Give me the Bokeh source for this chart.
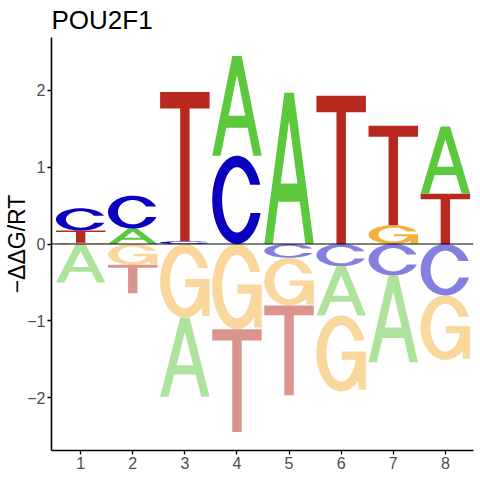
import numpy as np
from bokeh.plotting import figure
from bokeh.models import Span, FixedTicker, Range1d, ColumnDataSource
from bokeh.embed import file_html
from bokeh.resources import INLINE

# ---------------- data ----------------
positions = [1, 2, 3, 4, 5, 6, 7, 8]
A_vals = [-0.50, 0.20, -1.03, 1.30, 1.97, -0.64, -1.13, 0.875]
C_vals = [0.29, 0.43, 0.035, 1.15, -0.18, -0.29, -0.41, -0.67]
G_vals = [0.015, -0.27, -0.96, -1.11, -0.62, -0.99, 0.245, -0.84]
T_vals = [0.16, -0.37, 1.945, -1.34, -1.17, 1.93, 1.295, 0.655]
x_ticks = [1, 2, 3, 4, 5, 6, 7, 8]
y_ticks = [-2, -1, 0, 1, 2]
title_text = "POU2F1"
y_label_text = "\u2212\u0394\u0394G/RT"

letter_colors = {"A": "#5CC83B", "C": "#0C00C0", "G": "#F5B03C", "T": "#B8281E"}
pos_alpha = 1.0
neg_alpha = 0.5
letter_width = 0.95

# ---------------- letter outlines (unit box) ----------------
def arc(cx, cy, rx, ry, a0, a1, n=60):
    t = np.linspace(a0, a1, n)
    return list(cx + rx * np.cos(t)), list(cy + ry * np.sin(t))

def shape_T():
    xs = [0.0, 0.0, 1.0, 1.0, 0.595, 0.595, 0.405, 0.405]
    ys = [0.89, 1.0, 1.0, 0.89, 0.89, 0.0, 0.0, 0.89]
    return [[(xs, ys)]]

def shape_A():
    w = 0.17
    s = 0.405
    ox = [0.0, 0.405, 0.595, 1.0, 1.0 - w, 1.0 - w - s * 0.28, w + s * 0.28, w]
    oy = [0.0, 1.0, 1.0, 0.0, 0.0, 0.28, 0.28, 0.0]
    apex = (0.5 - w) / s
    hx = [w + s * 0.40, 1.0 - w - s * 0.40, 0.5]
    hy = [0.40, 0.40, apex]
    return [[(ox, oy), (hx, hy)]]

RO, RIx, RIy = 0.5, 0.30, 0.37
YT, YB = 0.67, 0.35

def shape_C():
    ao_t = np.arcsin((YT - 0.5) / RO)
    ao_b = -np.arcsin((0.5 - YB) / RO)
    ai_t = np.arcsin((YT - 0.5) / RIy)
    ai_b = -np.arcsin((0.5 - YB) / RIy)
    x1, y1 = arc(0.5, 0.5, RO, RO, ao_t, 2 * np.pi + ao_b)
    x2, y2 = arc(0.5, 0.5, RIx, RIy, 2 * np.pi + ai_b, ai_t)
    return [[(x1 + x2, y1 + y2)]]

def shape_G():
    ao_t = np.arcsin((YT - 0.5) / RO)
    stem_in = 0.85
    a_end = 2 * np.pi - np.arccos((stem_in - 0.5) / RO)
    x1, y1 = arc(0.5, 0.5, RO, RO, ao_t, a_end)
    bar_lo, bar_hi, bar_left = 0.415, 0.525, 0.51
    x1 += [stem_in, 1.0, 1.0, bar_left, bar_left]
    y1 += [0.02, 0.02, bar_hi, bar_hi, bar_lo]
    ai_s = -np.arcsin((0.5 - bar_lo) / RIy)
    ai_t = np.arcsin((YT - 0.5) / RIy) - 2 * np.pi
    x2, y2 = arc(0.5, 0.5, RIx, RIy, ai_s, ai_t)
    return [[(x1 + x2, y1 + y2)]]

shapes = {"A": shape_A(), "C": shape_C(), "G": shape_G(), "T": shape_T()}

# ---------------- build stacks ----------------
vals = {"A": A_vals, "C": C_vals, "G": G_vals, "T": T_vals}
XS, YS, COL, ALP = [], [], [], []
for i, pos in enumerate(positions):
    entries = [(L, vals[L][i]) for L in "ACGT"]
    posl = sorted([e for e in entries if e[1] > 0], key=lambda e: e[1])
    negl = sorted([e for e in entries if e[1] < 0], key=lambda e: -e[1])
    for group, sign in ((posl, 1), (negl, -1)):
        base = 0.0
        for L, v in group:
            h = abs(v)
            y0 = base if sign > 0 else base - h
            mp_x, mp_y = [], []
            for poly in shapes[L]:
                px, py = [], []
                for (rx, ry) in poly:
                    px.append([pos - letter_width / 2 + letter_width * u for u in rx])
                    py.append([y0 + h * u for u in ry])
                mp_x.append(px)
                mp_y.append(py)
            XS.append(mp_x)
            YS.append(mp_y)
            COL.append(letter_colors[L])
            ALP.append(pos_alpha if sign > 0 else neg_alpha)
            base = base + h if sign > 0 else base - h

src = ColumnDataSource(dict(xs=XS, ys=YS, color=COL, alpha=ALP))

# ---------------- figure ----------------
p = figure(width=480, height=480, output_backend="svg", toolbar_location=None,
           x_range=Range1d(0.44, 8.54), y_range=Range1d(-2.69, 2.69),
           min_border_left=51, min_border_right=7, min_border_top=37, min_border_bottom=30,
           title=title_text)
p.background_fill_color = "white"
p.border_fill_color = "white"
p.outline_line_color = None
p.xgrid.visible = False
p.ygrid.visible = False

p.title.text_font = "Liberation Sans"
p.title.text_font_size = "26px"
p.title.text_font_style = "normal"
p.title.text_color = "black"
p.title.align = "left"
p.title.vertical_align = "top"
p.title.standoff = 2
p.title.offset = 0

p.multi_polygons(xs="xs", ys="ys", fill_color="color", fill_alpha="alpha",
                 line_color=None, source=src)

p.add_layout(Span(location=0, dimension="width", line_color="black", line_width=1))

for ax in (p.xaxis[0], p.yaxis[0]):
    ax.axis_line_color = "black"
    ax.axis_line_width = 1.6
    ax.major_tick_line_color = "black"
    ax.major_tick_line_width = 1.3
    ax.major_tick_in = 0
    ax.major_tick_out = 4
    ax.minor_tick_line_color = None
    ax.major_label_text_font = "Liberation Sans"
    ax.major_label_text_font_size = "16px"
    ax.major_label_text_color = "#4D4D4D"
    ax.major_label_standoff = 2
p.xaxis[0].ticker = FixedTicker(ticks=x_ticks)
p.yaxis[0].ticker = FixedTicker(ticks=y_ticks)

p.yaxis[0].axis_label = y_label_text
p.yaxis[0].axis_label_text_font = "Liberation Sans"
p.yaxis[0].axis_label_text_font_size = "23px"
p.yaxis[0].axis_label_text_font_style = "normal"
p.yaxis[0].axis_label_text_color = "black"
p.yaxis[0].axis_label_standoff = -6

open("out.html", "w").write(file_html(p, INLINE))
